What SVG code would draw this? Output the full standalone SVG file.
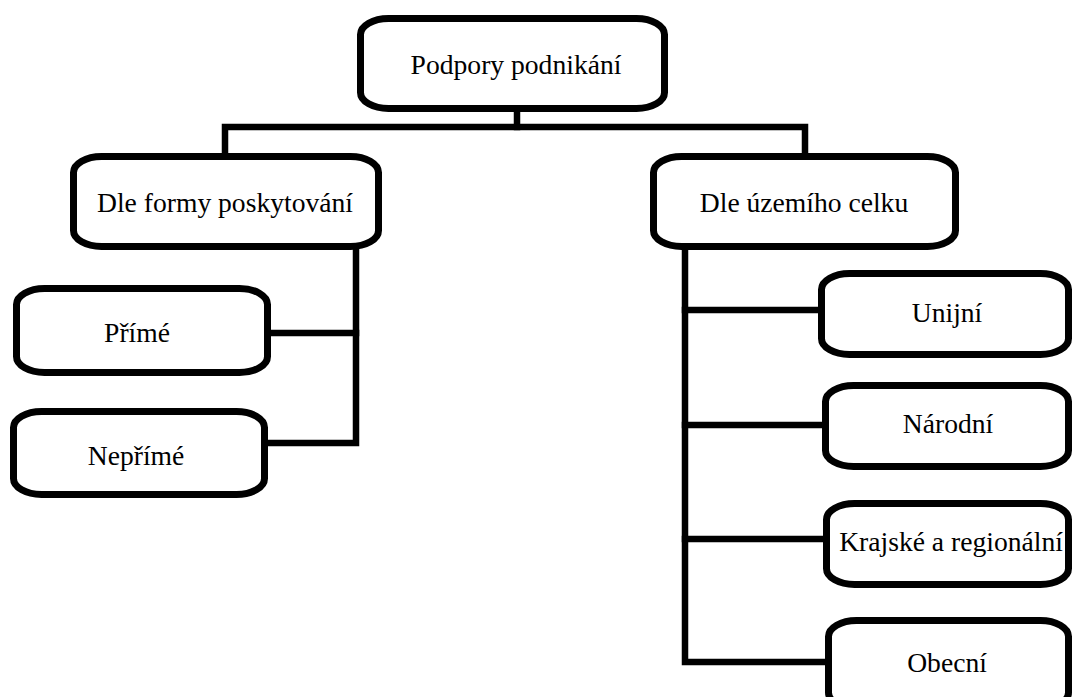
<svg xmlns="http://www.w3.org/2000/svg" width="1073" height="697" viewBox="0 0 1073 697">
  <style>
    .box { fill: #ffffff; stroke: #000000; stroke-width: 7; }
    .lbl { font-family: "Liberation Serif", "Times New Roman", serif; font-size: 27.6px; fill: #000000; text-anchor: middle; }
    .conn { fill: none; stroke: #000000; stroke-width: 6.5; stroke-linejoin: miter; stroke-linecap: square; }
  </style>
  <rect width="1073" height="697" fill="#ffffff"/>
  <g id="connectors">
    <path class="conn" d="M517,110 V127"/>
    <path class="conn" d="M225,154 V127 H805 V154"/>
    <path class="conn" d="M356,248 V443 H268"/>
    <path class="conn" d="M270,333 H356"/>
    <path class="conn" d="M685,248 V662 H826"/>
    <path class="conn" d="M685,310 H820"/>
    <path class="conn" d="M685,425 H824"/>
    <path class="conn" d="M685,539 H825"/>
  </g>
  <g id="node-root">
    <rect class="box" x="360.5" y="18.5" width="304" height="90" rx="28" ry="16"/>
    <text class="lbl" x="516" y="74">Podpory podnikání</text>
  </g>
  <g id="node-forma">
    <rect class="box" x="73.5" y="156.5" width="305" height="90" rx="28" ry="16"/>
    <text class="lbl" x="225" y="212">Dle formy poskytování</text>
  </g>
  <g id="node-uzemi">
    <rect class="box" x="653.5" y="156.5" width="302" height="90" rx="28" ry="16"/>
    <text class="lbl" x="804" y="212">Dle územího celku</text>
  </g>
  <g id="node-prime">
    <rect class="box" x="16.5" y="288.5" width="251" height="84" rx="28" ry="16"/>
    <text class="lbl" x="137" y="342">Přímé</text>
  </g>
  <g id="node-neprime">
    <rect class="box" x="13.5" y="411.5" width="251" height="83" rx="28" ry="16"/>
    <text class="lbl" x="136" y="465">Nepřímé</text>
  </g>
  <g id="node-unijni">
    <rect class="box" x="821.5" y="273.5" width="247" height="81" rx="28" ry="16"/>
    <text class="lbl" x="947" y="322">Unijní</text>
  </g>
  <g id="node-narodni">
    <rect class="box" x="825.5" y="385.5" width="243" height="81" rx="28" ry="16"/>
    <text class="lbl" x="948" y="433">Národní</text>
  </g>
  <g id="node-krajske">
    <rect class="box" x="826.5" y="503.5" width="242" height="81" rx="28" ry="16"/>
    <text class="lbl" x="951" y="551">Krajské a regionální</text>
  </g>
  <g id="node-obecni">
    <rect class="box" x="828.5" y="620.5" width="240" height="88" rx="28" ry="16"/>
    <text class="lbl" x="947" y="672">Obecní</text>
  </g>
</svg>
